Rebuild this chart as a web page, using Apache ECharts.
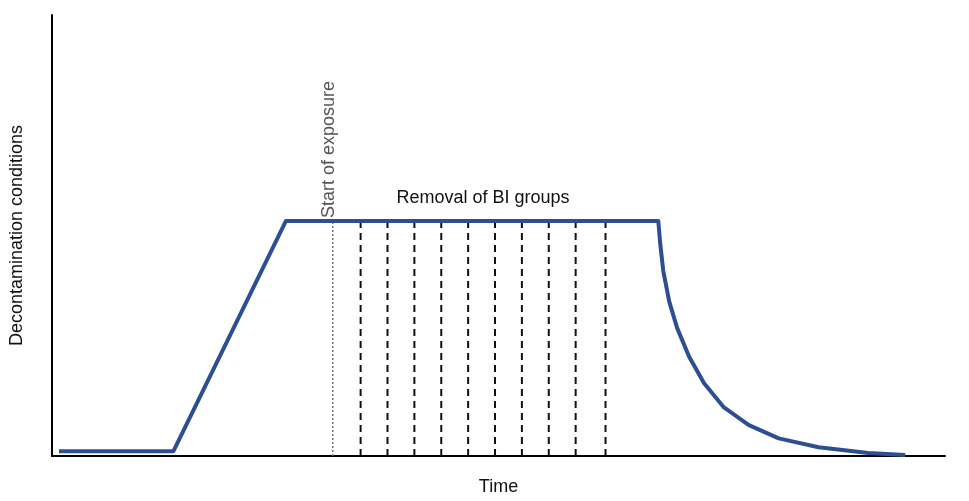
<!DOCTYPE html><html><head><meta charset="utf-8"><script src="https://cdn.jsdelivr.net/npm/echarts@6/dist/echarts.min.js"></script></head><body style="margin:0"><div id="c" style="width:969px;height:501px"></div><script>
var curveX=[7,122,235,609,611,614,620,628,640,655,675,700,730,770,820,857];
var curveY=[1.1,1.1,53.3,53.3,48,42,35,29,22.5,16.5,11,7,4,2,0.7,0.2];
var startX=282;
var removalX=[310,337,364,391,418,445,472,499,526,556];
var chart=echarts.init(document.getElementById('c'));
var lineTop=53.3;
function vline(x,type){return {type:'line',data:[[x,0],[x,lineTop]],symbol:'none',silent:true,z:1,lineStyle:{color:type==='dotted'?'#777':'#111',width:type==='dotted'?1.5:2,type:type==='dotted'?[2,2]:[7,5]}};}
var series=[{type:'line',data:curveX.map(function(v,i){return [v,curveY[i]];}),symbol:'none',z:5,lineStyle:{color:'#2d4f92',width:4,join:'round'}}];
series.push(vline(startX,'dotted'));
removalX.forEach(function(x){series.push(vline(x,'dashed'));});
chart.setOption({animation:false,
grid:{left:48,right:24,top:15,bottom:43},
xAxis:{type:'value',min:0,max:897,axisLine:{lineStyle:{color:'#000',width:2}},axisTick:{show:false},axisLabel:{show:false},splitLine:{show:false},name:'Time',nameLocation:'middle',nameGap:22,nameTextStyle:{fontSize:18,color:'#111',fontFamily:'Arial, Liberation Sans'}},
yAxis:{type:'value',min:0,max:100,axisLine:{show:true,lineStyle:{color:'#000',width:2}},axisTick:{show:false},axisLabel:{show:false},splitLine:{show:false},name:'Decontamination conditions',nameLocation:'middle',nameGap:26,nameTextStyle:{fontSize:18,color:'#111',fontFamily:'Arial, Liberation Sans'}},
graphic:[{type:'text',x:320,y:218,rotation:Math.PI/2,style:{text:'Start of exposure',fill:'#555',font:'18px Arial, Liberation Sans'}},
{type:'text',x:483,y:198,style:{text:'Removal of BI groups',fill:'#111',font:'18px Arial, Liberation Sans',align:'center',verticalAlign:'middle'}}],
series:series});
</script></body></html>
